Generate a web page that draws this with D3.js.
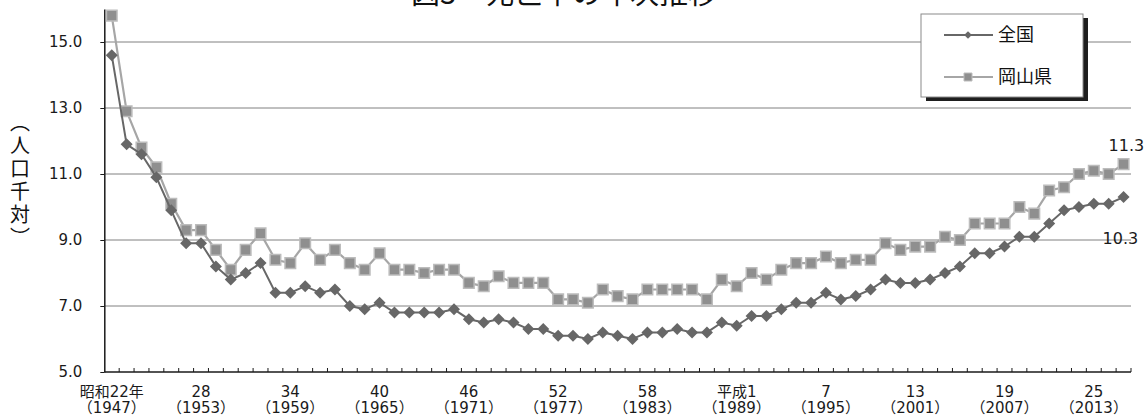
<!DOCTYPE html>
<html>
<head>
<meta charset="utf-8">
<script src="https://cdn.jsdelivr.net/npm/d3@7"></script>
<style>
  body { margin: 0; background: #fff; }
  svg { display: block; }
</style>
</head>
<body>
<svg id="chart"></svg>
<script>
// Years 1947 (昭和22) .. 2015 (平成27)
const years = d3.range(1947, 2016);

// 死亡率 (人口千対)
const zenkoku = [14.6, 11.9, 11.6, 10.9, 9.9, 8.9, 8.9, 8.2, 7.8, 8.0,
  8.3, 7.4, 7.4, 7.6, 7.4, 7.5, 7.0, 6.9, 7.1, 6.8,
  6.8, 6.8, 6.8, 6.9, 6.6, 6.5, 6.6, 6.5, 6.3, 6.3,
  6.1, 6.1, 6.0, 6.2, 6.1, 6.0, 6.2, 6.2, 6.3, 6.2,
  6.2, 6.5, 6.4, 6.7, 6.7, 6.9, 7.1, 7.1, 7.4, 7.2,
  7.3, 7.5, 7.8, 7.7, 7.7, 7.8, 8.0, 8.2, 8.6, 8.6,
  8.8, 9.1, 9.1, 9.5, 9.9, 10.0, 10.1, 10.1, 10.3];
const okayama = [15.8, 12.9, 11.8, 11.2, 10.1, 9.3, 9.3, 8.7, 8.1, 8.7,
  9.2, 8.4, 8.3, 8.9, 8.4, 8.7, 8.3, 8.1, 8.6, 8.1,
  8.1, 8.0, 8.1, 8.1, 7.7, 7.6, 7.9, 7.7, 7.7, 7.7,
  7.2, 7.2, 7.1, 7.5, 7.3, 7.2, 7.5, 7.5, 7.5, 7.5,
  7.2, 7.8, 7.6, 8.0, 7.8, 8.1, 8.3, 8.3, 8.5, 8.3,
  8.4, 8.4, 8.9, 8.7, 8.8, 8.8, 9.1, 9.0, 9.5, 9.5,
  9.5, 10.0, 9.8, 10.5, 10.6, 11.0, 11.1, 11.0, 11.3];

// x axis labels (every 6 years)
const labelYears = [1947, 1953, 1959, 1965, 1971, 1977, 1983, 1989, 1995, 2001, 2007, 2013];
const labelEra = ["昭和22年", "28", "34", "40", "46", "52", "58", "平成1", "7", "13", "19", "25"];
const yTicks = [5, 7, 9, 11, 13, 15];

const seriesNames = ["全国", "岡山県"];

const width = 1145, height = 416;
const margin = { top: 9, right: 14, bottom: 44, left: 104.3 };

const svg = d3.select("#chart")
  .attr("width", width)
  .attr("height", height);

const x = d3.scaleBand()
  .domain(years)
  .range([margin.left, width - margin.right])
  .padding(0);
const cx = d => x(d) + x.bandwidth() / 2;

const y = d3.scaleLinear()
  .domain([5, 16])
  .range([height - margin.bottom, margin.top]);

const numFont = "'DejaVu Sans', 'Noto Sans CJK JP', sans-serif";
const jpFont = "'Noto Sans CJK JP', sans-serif";

// Title (cut off at the top, as in the source)
svg.append("text")
  .attr("x", 411)
  .attr("y", 4)
  .attr("font-family", jpFont)
  .attr("font-size", 29)
  .attr("fill", "#111")
  .text("図3　死亡率の年次推移");

// gridlines
svg.append("g")
  .selectAll("line")
  .data(yTicks.filter(d => d > 5))
  .join("line")
  .attr("x1", margin.left)
  .attr("x2", width - margin.right)
  .attr("y1", d => y(d))
  .attr("y2", d => y(d))
  .attr("stroke", "#808080")
  .attr("stroke-width", 1);

// y axis
const yAxis = svg.append("g")
  .attr("transform", `translate(${margin.left},0)`)
  .call(d3.axisLeft(y).tickValues(yTicks).tickFormat(d3.format(".1f")).tickSize(4).tickSizeOuter(0).tickPadding(18));
yAxis.select(".domain").attr("stroke", "#1a1a1a").attr("stroke-width", 1.5);
yAxis.selectAll(".tick line").attr("stroke", "#1a1a1a");
yAxis.selectAll(".tick text")
  .attr("font-family", numFont)
  .attr("font-size", 15)
  .attr("fill", "#1a1a1a");

// y axis title
svg.append("text")
  .attr("x", 20)
  .attr("y", 181)
  .attr("text-anchor", "middle")
  .style("writing-mode", "vertical-rl")
  .attr("font-family", jpFont)
  .attr("font-size", 20)
  .attr("letter-spacing", 3)
  .attr("fill", "#111")
  .text("（人口千対）");

// x axis line + small inward ticks on category boundaries
const xAxisY = y(5);
svg.append("line")
  .attr("x1", margin.left)
  .attr("x2", width - margin.right)
  .attr("y1", xAxisY)
  .attr("y2", xAxisY)
  .attr("stroke", "#1a1a1a")
  .attr("stroke-width", 1.5);

svg.append("g")
  .selectAll("line")
  .data(years.slice(1).concat(["end"]))
  .join("line")
  .attr("x1", d => d === "end" ? width - margin.right : x(d))
  .attr("x2", d => d === "end" ? width - margin.right : x(d))
  .attr("y1", xAxisY)
  .attr("y2", xAxisY - 4)
  .attr("stroke", "#1a1a1a")
  .attr("stroke-width", 1);

// x labels (two lines)
const xl = svg.append("g")
  .selectAll("text")
  .data(labelYears)
  .join("text")
  .attr("text-anchor", "middle")
  .attr("font-family", numFont)
  .attr("font-size", 15)
  .attr("fill", "#1a1a1a");
xl.append("tspan")
  .attr("x", d => cx(d))
  .attr("y", 397)
  .text((d, i) => labelEra[i]);
xl.append("tspan")
  .attr("x", d => cx(d))
  .attr("y", 413)
  .text(d => "（" + d + "）");

// lines
const line = d3.line()
  .x((d, i) => cx(years[i]))
  .y(d => y(d));

const diamond = d3.symbol().type(d3.symbolSquare).size(72);
const square = d3.symbol().type(d3.symbolSquare).size(112);

// 岡山県
svg.append("path")
  .datum(okayama)
  .attr("fill", "none")
  .attr("stroke", "#a6a6a6")
  .attr("stroke-width", 2.2)
  .attr("d", line);
svg.append("g")
  .selectAll("path")
  .data(okayama)
  .join("path")
  .attr("d", square)
  .attr("transform", (d, i) => `translate(${cx(years[i])},${y(d)})`)
  .attr("fill", "#8f8f8f")
  .attr("stroke", "#bcbcbc")
  .attr("stroke-width", 1.5);

// 全国
svg.append("path")
  .datum(zenkoku)
  .attr("fill", "none")
  .attr("stroke", "#676767")
  .attr("stroke-width", 2)
  .attr("d", line);
svg.append("g")
  .selectAll("path")
  .data(zenkoku)
  .join("path")
  .attr("d", diamond)
  .attr("transform", (d, i) => `translate(${cx(years[i])},${y(d)}) rotate(45)`)
  .attr("fill", "#676767");

// end value labels
const last = years.length - 1;
svg.append("text")
  .attr("x", cx(years[last]) - 15)
  .attr("y", y(okayama[last]) - 13)
  .attr("font-family", numFont)
  .attr("font-size", 16)
  .attr("fill", "#1a1a1a")
  .text(okayama[last].toFixed(1));
svg.append("text")
  .attr("x", cx(years[last]) - 21)
  .attr("y", y(zenkoku[last]) + 47)
  .attr("font-family", numFont)
  .attr("font-size", 16)
  .attr("fill", "#1a1a1a")
  .text(zenkoku[last].toFixed(1));

// legend
const lg = svg.append("g").attr("transform", "translate(921,14)");
lg.append("rect")
  .attr("x", 5).attr("y", 4)
  .attr("width", 162).attr("height", 83)
  .attr("fill", "#1e1e1e");
lg.append("rect")
  .attr("width", 162).attr("height", 83)
  .attr("fill", "#fff")
  .attr("stroke", "#8a8a8a")
  .attr("stroke-width", 1);

const legendItems = lg.selectAll("g.item")
  .data(seriesNames)
  .join("g")
  .attr("class", "item")
  .attr("transform", (d, i) => `translate(0,${21 + i * 42})`);
legendItems.append("line")
  .attr("x1", 23).attr("x2", 72)
  .attr("stroke", (d, i) => i === 0 ? "#676767" : "#a6a6a6")
  .attr("stroke-width", 2);
legendItems.append("path")
  .attr("d", (d, i) => i === 0 ? d3.symbol().type(d3.symbolSquare).size(30)() : d3.symbol().type(d3.symbolSquare).size(64)())
  .attr("transform", (d, i) => i === 0 ? "translate(47,0) rotate(45)" : "translate(47,0)")
  .attr("fill", (d, i) => i === 0 ? "#676767" : "#8f8f8f")
  .attr("stroke", (d, i) => i === 0 ? "none" : "#bcbcbc")
  .attr("stroke-width", 1);
legendItems.append("text")
  .attr("x", 77)
  .attr("y", 6)
  .attr("font-family", jpFont)
  .attr("font-size", 18)
  .attr("fill", "#111")
  .text(d => d);
</script>
</body>
</html>
